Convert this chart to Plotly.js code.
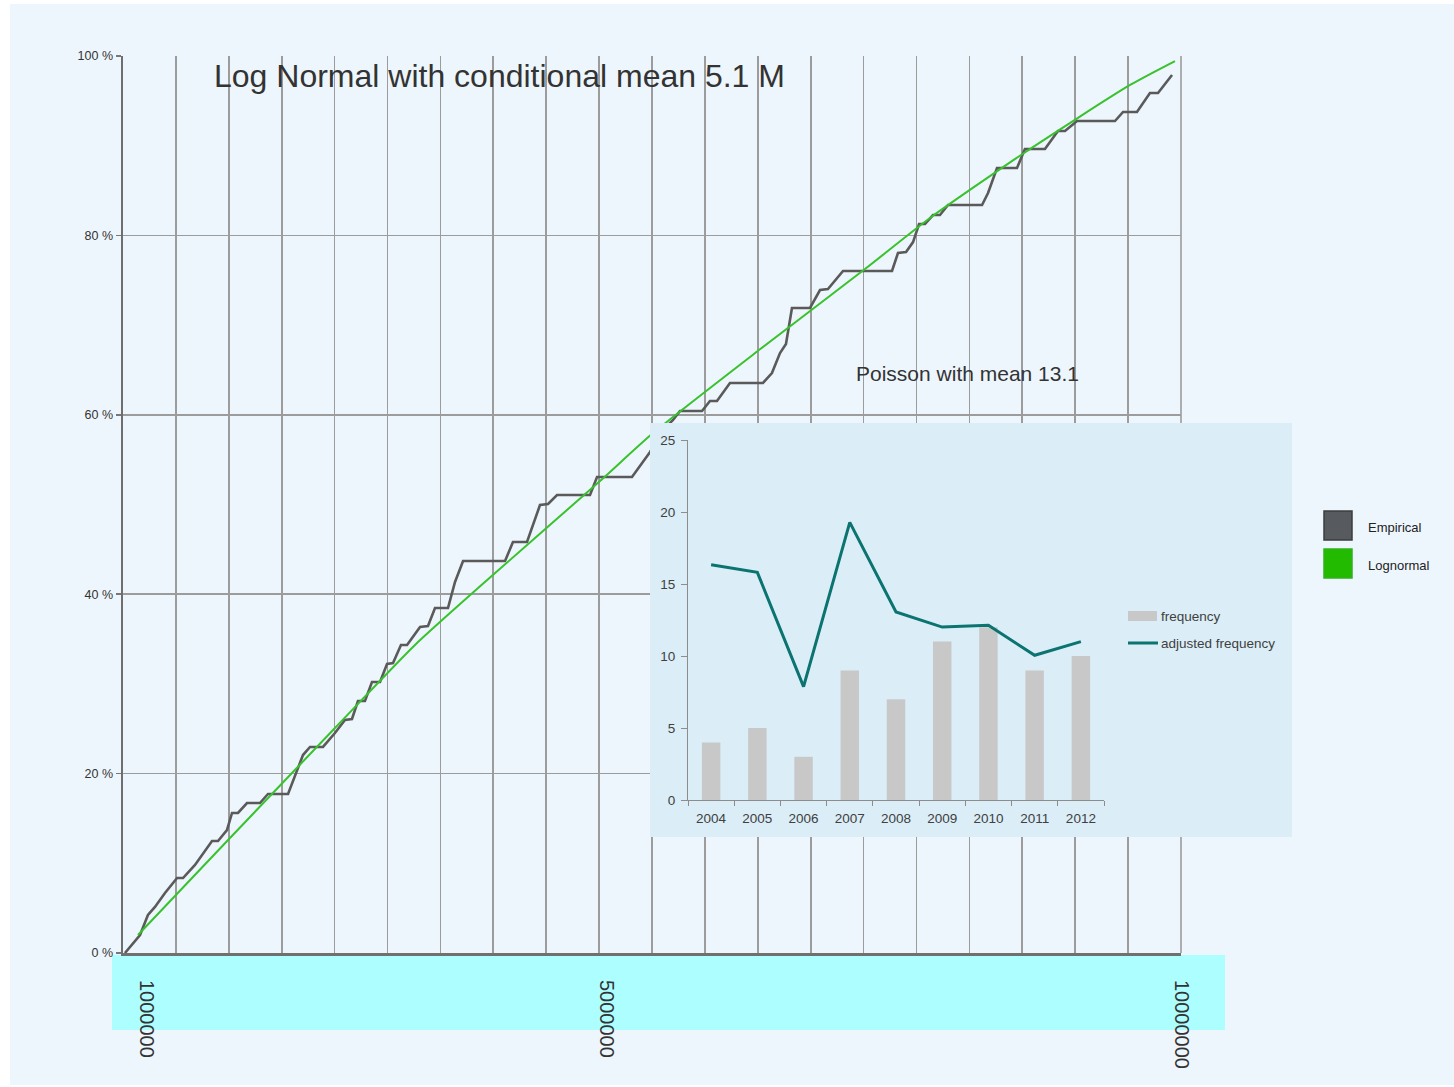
<!DOCTYPE html>
<html>
<head>
<meta charset="utf-8">
<script src="https://cdn.plot.ly/plotly-3.0.1.min.js"></script>
<style>
  html, body { margin: 0; padding: 0; background: #ffffff; overflow: hidden; }
  #wrap { position: relative; width: 1454px; height: 1087px; }
  #main { position: absolute; left: 0; top: 0; width: 1454px; height: 1087px; }
  #inset { position: absolute; left: 650px; top: 423px; width: 642px; height: 414px; }
</style>
</head>
<body>
<div id="wrap">
  <div id="main"></div>
  <div id="inset"></div>
</div>
<script>
// ---------- Main chart data (x in millions, y in %) ----------
const empiricalX = [0.817,0.948,1.017,1.078,1.165,1.270,1.322,1.426,1.574,1.626,1.704,1.748,1.800,1.878,1.991,2.061,2.235,2.313,2.365,2.426,2.539,2.643,2.730,2.791,2.843,2.904,2.965,3.035,3.096,3.148,3.217,3.270,3.383,3.452,3.513,3.626,3.687,3.757,4.122,4.191,4.313,4.426,4.496,4.574,4.861,4.922,5.226,5.383,5.496,5.583,5.643,5.835,5.904,5.965,6.078,6.365,6.443,6.513,6.565,6.617,6.774,6.861,6.930,7.061,7.487,7.539,7.609,7.670,7.722,7.774,7.843,7.904,7.974,8.270,8.322,8.400,8.574,8.643,8.817,8.930,8.991,9.096,9.426,9.496,9.617,9.730,9.800,9.922];
const empiricalY = [0,2.01,4.24,5.13,6.69,8.36,8.36,9.81,12.49,12.49,13.71,15.61,15.61,16.72,16.72,17.73,17.73,20.40,22.07,22.97,22.97,24.53,25.98,26.09,28.09,28.09,30.21,30.21,32.22,32.33,34.34,34.34,36.34,36.45,38.46,38.46,41.36,43.70,43.70,45.82,45.82,49.94,50.06,51.06,51.06,53.07,53.07,55.85,58.31,59.42,60.42,60.42,61.54,61.54,63.55,63.55,64.66,66.89,67.89,71.91,71.91,73.91,74.02,76.03,76.03,78.04,78.15,79.26,81.27,81.27,82.27,82.27,83.39,83.39,84.73,87.51,87.51,89.63,89.63,91.64,91.64,92.75,92.75,93.76,93.76,95.88,95.88,97.88];

const lognormalX = [0.930,1.722,2.643,3.339,4.026,4.948,5.409,6.330,7.252,7.817,8.635,9.557,9.948];
const lognormalY = [2.01,12.71,25.08,34.34,42.25,52.62,57.97,67.22,76.25,81.94,89.19,96.77,99.44];

const xRange = [0.8, 10.0];
const xTickVals = [1, 5, 10];
const xTickText = ['1000000', '5000000', '10000000'];
const yTickVals = [0, 20, 40, 60, 80, 100];
const yTickText = ['0 %', '20 %', '40 %', '60 %', '80 %', '100 %'];

const seriesNames = ['Empirical', 'Lognormal'];
const seriesColors = ['#5a5a5a', '#38c22c'];
const legendSwatch = ['#575b5f', '#22bb00'];

const titleText = 'Log Normal with conditional mean 5.1 M';
const poissonText = 'Poisson with mean 13.1';

// ---------- Inset data ----------
const years = ['2004','2005','2006','2007','2008','2009','2010','2011','2012'];
const frequency = [4,5,3,9,7,11,12,9,10];
const adjustedFrequency = [16.34,15.81,7.87,19.28,13.06,12.01,12.13,10.05,11.0];
const insetNames = ['frequency', 'adjusted frequency'];
const insetColors = ['#c8c8c8', '#0b7370'];

const FONT = 'Liberation Sans, Arial, sans-serif';

// main chart
const mainTraces = [
  {
    x: empiricalX, y: empiricalY, type: 'scatter', mode: 'lines',
    name: seriesNames[0], xaxis: 'x', yaxis: 'y',
    line: { color: seriesColors[0], width: 2.6 }, hoverinfo: 'skip'
  },
  {
    x: lognormalX, y: lognormalY, type: 'scatter', mode: 'lines',
    name: seriesNames[1], xaxis: 'x2', yaxis: 'y',
    line: { color: seriesColors[1], width: 2, shape: 'spline', smoothing: 0.6 }, hoverinfo: 'skip'
  }
];

// paper coord helpers (plot area: px 123..1181, py 56..953)
const L = 123, R = 1181, T = 56, B = 953;
const px = v => (v - L) / (R - L);
const py = v => (B - v) / (B - T);

const shapes = [
  { type: 'rect', xref: 'paper', yref: 'paper', layer: 'below',
    x0: px(10), x1: px(1454), y0: py(1085), y1: py(4),
    fillcolor: '#eef6fd', line: { width: 0 } },
  { type: 'rect', xref: 'paper', yref: 'paper', layer: 'below',
    x0: px(112), x1: px(1225), y0: py(1030), y1: py(955),
    fillcolor: '#adffff', line: { width: 0 } },
  // right border of the plot area (same style as grid)
  { type: 'line', xref: 'paper', yref: 'paper', layer: 'below',
    x0: 1, x1: 1, y0: 0, y1: 1, line: { color: '#9c9c9c', width: 1.6 } }
];
const annotations = [
  { text: titleText, xref: 'paper', yref: 'paper', x: px(212), y: py(76),
    xanchor: 'left', yanchor: 'middle', showarrow: false,
    font: { family: FONT, size: 32, color: '#333333' } },
  { text: poissonText, xref: 'paper', yref: 'paper', x: px(854), y: py(373),
    xanchor: 'left', yanchor: 'middle', showarrow: false,
    font: { family: FONT, size: 21, color: '#333333' } }
];
const legendTop = [511, 549];
const legendTextY = [527, 565];
seriesNames.forEach((n, i) => {
  shapes.push({ type: 'rect', xref: 'paper', yref: 'paper', layer: 'above',
    x0: px(1324), x1: px(1352), y0: py(legendTop[i] + 29), y1: py(legendTop[i]),
    fillcolor: legendSwatch[i], line: { color: i === 0 ? '#3c3c3c' : '#2fb31a', width: 1.5 } });
  annotations.push({ text: n, xref: 'paper', yref: 'paper', x: px(1366), y: py(legendTextY[i]),
    xanchor: 'left', yanchor: 'middle', showarrow: false,
    font: { family: FONT, size: 13, color: '#222222' } });
});

const mainLayout = {
  width: 1454, height: 1087,
  margin: { l: L, r: 1454 - R, t: T, b: 1087 - B, pad: 0 },
  paper_bgcolor: '#ffffff', plot_bgcolor: 'rgba(0,0,0,0)',
  showlegend: false,
  xaxis: {
    range: xRange, tickmode: 'linear', tick0: 0.8, dtick: 0.46,
    showticklabels: false, ticks: '',
    showgrid: true, gridcolor: '#9c9c9c', gridwidth: 1.6,
    zeroline: false, showline: true, linecolor: '#707070', linewidth: 3
  },
  xaxis2: {
    overlaying: 'x', anchor: 'y', side: 'bottom', range: xRange,
    tickmode: 'array', tickvals: xTickVals, ticktext: xTickText, tickangle: 90,
    ticks: 'outside', ticklen: 22, tickcolor: 'rgba(0,0,0,0)',
    showgrid: false, zeroline: false, showline: false,
    tickfont: { family: FONT, size: 20, color: '#333333' }
  },
  yaxis: {
    range: [0, 100], tickmode: 'array', tickvals: yTickVals, ticktext: yTickText,
    ticks: 'outside', ticklen: 5, tickcolor: '#777777', tickwidth: 1.5,
    showgrid: true, gridcolor: '#9c9c9c', gridwidth: 1.6,
    zeroline: false, showline: true, linecolor: '#6e6e6e', linewidth: 2.5,
    tickfont: { family: FONT, size: 12.5, color: '#333333' }
  },
  shapes: shapes,
  annotations: annotations
};

Plotly.newPlot('main', mainTraces, mainLayout, { staticPlot: true, displayModeBar: false });

// inset chart (plot area in inset px: x 38..454, y 17..377)
const iL = 38, iR = 454, iT = 17, iB = 377;
const ipx = v => (v - iL) / (iR - iL);
const ipy = v => (iB - v) / (iB - iT);

const insetTraces = [
  { x: years, y: frequency, type: 'bar', name: insetNames[0],
    marker: { color: insetColors[0] }, hoverinfo: 'skip' },
  { x: years, y: adjustedFrequency, type: 'scatter', mode: 'lines', name: insetNames[1],
    line: { color: insetColors[1], width: 3 }, hoverinfo: 'skip' }
];
const insetShapes = [
  { type: 'rect', xref: 'paper', yref: 'paper', x0: ipx(478), x1: ipx(507), y0: ipy(198), y1: ipy(188),
    fillcolor: insetColors[0], line: { width: 0 } },
  { type: 'line', xref: 'paper', yref: 'paper', x0: ipx(478), x1: ipx(508), y0: ipy(220), y1: ipy(220),
    line: { color: insetColors[1], width: 3 } }
];
const insetAnnotations = insetNames.map((n, i) => ({
  text: n, xref: 'paper', yref: 'paper', x: ipx(509), y: ipy([193, 220][i]),
  xanchor: 'left', yanchor: 'middle', showarrow: false,
  font: { family: FONT, size: 13.5, color: '#404040' }
}));
const insetLayout = {
  width: 642, height: 414,
  margin: { l: iL, r: 642 - iR, t: iT, b: 414 - iB, pad: 0 },
  paper_bgcolor: '#dbeef7', plot_bgcolor: 'rgba(0,0,0,0)',
  bargap: 0.6,
  showlegend: false,
  xaxis: {
    type: 'category', tickson: 'boundaries', ticks: 'outside', ticklen: 5,
    tickcolor: '#8c8c8c', showline: true, linecolor: '#8c8c8c', linewidth: 1,
    showgrid: false, zeroline: false, ticklabelstandoff: 6,
    tickfont: { family: FONT, size: 13.5, color: '#404040' }
  },
  yaxis: {
    range: [0, 25], tickmode: 'linear', tick0: 0, dtick: 5,
    ticks: 'outside', ticklen: 6, tickcolor: '#8c8c8c',
    showline: true, linecolor: '#8c8c8c', linewidth: 1,
    showgrid: false, zeroline: false, ticklabelstandoff: 3,
    tickfont: { family: FONT, size: 13.5, color: '#404040' }
  },
  shapes: insetShapes,
  annotations: insetAnnotations
};
Plotly.newPlot('inset', insetTraces, insetLayout, { staticPlot: true, displayModeBar: false });
</script>
</body>
</html>
